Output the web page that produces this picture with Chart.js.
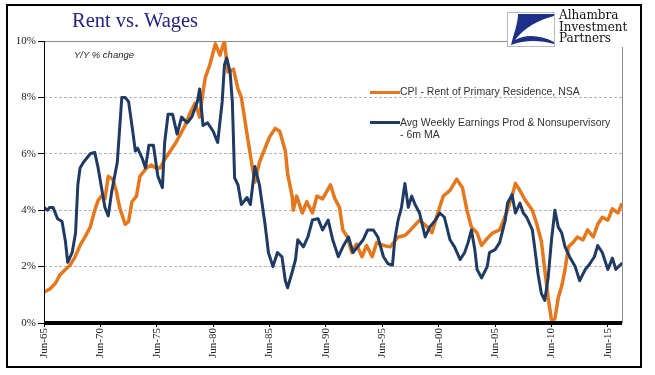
<!DOCTYPE html>
<html>
<head>
<meta charset="utf-8">
<script src="https://cdn.jsdelivr.net/npm/chart.js@4.4.1/dist/chart.umd.min.js"></script>
<style>
    body { margin: 0; background: #fff; }
    #wrap { position: relative; width: 655px; height: 375px; overflow: hidden; }
    #frame { position: absolute; left: 6px; top: 4px; width: 632px; height: 360px; border: 2px solid #000; }
    #mycanvas { position: absolute; left: 0; top: 0; }
    #title { position: absolute; left: 72px; top: 9px; font: 20.5px "Liberation Serif", serif; color: #24247e; white-space: nowrap; }
    #subtitle { position: absolute; left: 74px; top: 49px; font: italic 9.5px "Liberation Sans", sans-serif; color: #222; }
    .legline { position: absolute; left: 370px; width: 30px; height: 3px; }
    .legtext { position: absolute; left: 400px; font: 10.5px "Liberation Sans", Arial, sans-serif; color: #333; line-height: 12px; white-space: nowrap; }
    #logobox { position: absolute; left: 507px; top: 12px; width: 46px; height: 33px; border: 1px solid #b8b8b8; background: #fff; }
    #logotext { position: absolute; left: 559px; top: 10px; font: 12px "DejaVu Serif", serif; line-height: 11.5px; color: #111; }
</style>
</head>
<body>
<div id="wrap">
    <div id="frame"></div>
    <canvas id="mycanvas" width="655" height="375"></canvas>
    <div id="title">Rent vs. Wages</div>
    <div id="subtitle">Y/Y % change</div>
    <div class="legline" style="top:91px; background:#e4781e"></div>
    <div class="legtext" style="top:85px">CPI - Rent of Primary Residence, NSA</div>
    <div class="legline" style="top:121px; background:#1f3b63"></div>
    <div class="legtext" style="top:116px">Avg Weekly Earnings Prod &amp; Nonsupervisory<br>- 6m MA</div>
    <div id="logobox">
        <svg width="46" height="33" viewBox="0 0 46 33">
            <path d="M10 1 L46 1 L46 3 C30 7 16 15 7 27 C18 21 32 22 46 29 L46 31 C32 27 16 27 3 32 C6 20 10 10 10 1 Z" fill="#1d2f86"/>
        </svg>
    </div>
    <div id="logotext">Alhambra<br>Investment<br>Partners</div>
</div>
<script>
// x values are years, Jun-65 = 1965.5
var tickYears = [1965.5, 1970.5, 1975.5, 1980.5, 1985.5, 1990.5, 1995.5, 2000.5, 2005.5, 2010.5, 2015.5];
var xTickLabels = ['Jun-65', 'Jun-70', 'Jun-75', 'Jun-80', 'Jun-85', 'Jun-90', 'Jun-95', 'Jun-00', 'Jun-05', 'Jun-10', 'Jun-15'];

// CPI - Rent of Primary Residence, NSA (Y/Y %)
var rentYears = [1965.5, 1966.0, 1966.5, 1966.9, 1967.4, 1967.8, 1968.2, 1968.7, 1969.2, 1969.6,
    1970.0, 1970.3, 1970.6, 1970.9, 1971.2, 1971.6, 1971.9, 1972.2, 1972.7, 1973.0,
    1973.3, 1973.7, 1974.0, 1974.6, 1975.0, 1975.4, 1975.8, 1976.2, 1976.7, 1977.2,
    1977.6, 1978.0, 1978.4, 1978.9, 1979.3, 1979.6, 1979.8, 1980.2, 1980.5, 1980.7,
    1981.1, 1981.5, 1981.8, 1982.3, 1982.7, 1983.0, 1983.5, 1983.9, 1984.2, 1984.6,
    1985.0, 1985.5, 1986.0, 1986.4, 1986.9, 1987.1, 1987.5, 1987.6, 1987.9, 1988.4,
    1988.8, 1989.3, 1989.7, 1990.2, 1990.9, 1991.3, 1991.7, 1992.0, 1992.4, 1992.8,
    1993.2, 1993.7, 1994.1, 1994.6, 1995.0, 1995.6, 1996.2, 1996.9, 1997.5, 1998.0,
    1998.8, 1999.5, 1999.9, 2000.3, 2000.9, 2001.5, 2002.1, 2002.6, 2003.0, 2003.4,
    2003.9, 2004.3, 2004.8, 2005.3, 2005.9, 2006.5, 2007.0, 2007.3, 2007.7, 2008.1,
    2008.8, 2009.2, 2009.6, 2009.9, 2010.2, 2010.5, 2010.8, 2011.1, 2011.4, 2011.7,
    2012.0, 2012.4, 2012.8, 2013.3, 2013.7, 2014.2, 2014.6, 2015.0, 2015.5, 2015.9,
    2016.4, 2016.7];
var rentValues = [1.1, 1.2, 1.4, 1.7, 1.9, 2.05, 2.3, 2.75, 3.1, 3.4,
    4.0, 4.35, 4.5, 4.4, 5.2, 5.1, 4.7, 4.1, 3.5, 3.6,
    4.3, 4.5, 5.2, 5.5, 5.6, 5.5, 5.5, 5.8, 6.1, 6.4,
    6.7, 7.0, 7.4, 7.8, 7.3, 8.2, 8.7, 9.15, 9.6, 9.9,
    9.5, 10.0, 8.9, 9.0, 8.3, 8.0, 6.7, 5.7, 5.0, 5.7,
    6.1, 6.6, 6.9, 6.8, 6.1, 5.3, 4.5, 4.0, 4.5, 3.9,
    4.3, 3.9, 4.5, 4.4, 4.9, 4.4, 4.1, 3.3, 3.05, 2.5,
    2.8, 2.35, 2.75, 2.35, 2.85, 2.75, 2.7, 3.05, 3.1, 3.3,
    3.65, 3.4, 3.2, 3.75, 4.5, 4.7, 5.1, 4.8, 4.0, 3.4,
    3.2, 2.75, 3.0, 3.2, 3.3, 3.9, 4.5, 4.95, 4.7, 4.4,
    4.0, 3.5, 2.9, 1.9, 0.9, 0.1, 0.15, 0.9, 1.3, 1.9,
    2.7, 2.85, 3.05, 2.95, 3.3, 3.05, 3.5, 3.75, 3.65, 4.05,
    3.9, 4.2];

// Avg Weekly Earnings Prod & Nonsupervisory - 6m MA (Y/Y %)
var wageYears = [1965.5, 1965.8, 1966.0, 1966.3, 1966.7, 1967.1, 1967.4, 1967.6, 1968.0, 1968.3,
    1968.5, 1968.7, 1969.0, 1969.6, 1970.0, 1970.3, 1970.6, 1970.9, 1971.2, 1971.5,
    1972.0, 1972.4, 1972.7, 1973.0, 1973.3, 1973.6, 1973.8, 1974.2, 1974.5, 1974.8,
    1975.2, 1975.6, 1976.0, 1976.2, 1976.5, 1976.9, 1977.3, 1977.7, 1978.2, 1978.6,
    1979.1, 1979.3, 1979.6, 1980.0, 1980.5, 1980.9, 1981.3, 1981.5, 1981.7, 1982.0,
    1982.2, 1982.4, 1982.7, 1983.0, 1983.5, 1983.8, 1984.2, 1984.6, 1985.1, 1985.4,
    1985.8, 1986.2, 1986.6, 1986.9, 1987.1, 1987.5, 1987.8, 1988.0, 1988.5, 1988.9,
    1989.3, 1989.8, 1990.2, 1990.7, 1991.1, 1991.6, 1992.0, 1992.5, 1992.9, 1993.3,
    1993.8, 1994.2, 1994.7, 1995.1, 1995.6, 1996.0, 1996.4, 1996.6, 1996.9, 1997.2,
    1997.5, 1997.8, 1998.1, 1998.4, 1998.8, 1999.3, 1999.7, 2000.2, 2000.6, 2001.0,
    2001.5, 2001.9, 2002.4, 2002.8, 2003.1, 2003.4, 2003.7, 2003.9, 2004.3, 2004.8,
    2005.0, 2005.5, 2005.9, 2006.4, 2006.6, 2007.0, 2007.3, 2007.7, 2008.0, 2008.3,
    2008.8, 2009.0, 2009.3, 2009.6, 2009.9, 2010.2, 2010.5, 2010.8, 2011.1, 2011.4,
    2011.7, 2012.1, 2012.6, 2013.0, 2013.5, 2013.9, 2014.3, 2014.6, 2015.0, 2015.5,
    2015.9, 2016.2, 2016.7];
var wageValues = [4.1, 4.0, 4.1, 4.1, 3.7, 3.6, 2.9, 2.15, 2.5, 3.2,
    4.9, 5.5, 5.7, 6.0, 6.05, 5.5, 4.8, 4.1, 3.8, 4.65,
    5.7, 8.0, 8.0, 7.85, 7.0, 6.1, 6.2, 5.85, 5.5, 6.3,
    6.3, 5.2, 4.8, 6.4, 7.4, 7.4, 6.7, 7.3, 7.1, 7.3,
    7.85, 8.3, 7.0, 7.1, 6.8, 6.4, 7.85, 9.15, 9.4, 8.9,
    7.85, 5.15, 4.9, 4.2, 4.45, 4.2, 5.55, 4.9, 3.5, 2.5,
    2.0, 2.5, 2.35, 1.5, 1.25, 1.8, 2.25, 2.95, 2.7, 3.05,
    3.65, 3.7, 3.3, 3.65, 2.95, 2.35, 2.7, 3.05, 2.5, 2.7,
    2.95, 3.3, 3.3, 3.05, 2.35, 2.1, 2.05, 2.95, 3.65, 4.1,
    4.95, 4.1, 4.5, 4.2, 3.9, 3.05, 3.4, 3.65, 3.9, 3.75,
    2.95, 2.7, 2.25, 2.5, 2.85, 3.3, 2.6, 1.9, 1.6, 2.0,
    2.5, 2.6, 2.85, 3.65, 4.25, 4.55, 3.9, 4.25, 3.9, 3.75,
    3.3, 2.7, 1.75, 1.05, 0.8, 1.6, 2.95, 4.0, 3.4, 3.2,
    2.7, 2.35, 2.0, 1.5, 1.9, 2.1, 2.35, 2.75, 2.5, 1.9,
    2.3, 1.9, 2.1];

function toPoints(xs, ys) {
    var pts = [];
    for (var i = 0; i < xs.length; i++) {
        pts.push({ x: xs[i], y: ys[i] });
    }
    return pts;
}

// frame lines of the plot, drawn by hand like the original
var plotLines = {
    id: 'plotLines',
    beforeDatasetsDraw: function (chart) {
        var ctx = chart.ctx, a = chart.chartArea;
        ctx.save();
        ctx.strokeStyle = '#8a8a8a';
        ctx.lineWidth = 1;
        ctx.beginPath();
        ctx.moveTo(a.left, Math.round(a.top) + 0.5);
        ctx.lineTo(507, Math.round(a.top) + 0.5);
        ctx.moveTo(Math.round(a.right) + 0.5, 47);
        ctx.lineTo(Math.round(a.right) + 0.5, a.bottom);
        ctx.stroke();
        ctx.restore();
    },
    afterDatasetsDraw: function (chart) {
        var ctx = chart.ctx, a = chart.chartArea;
        ctx.save();
        ctx.strokeStyle = '#000';
        ctx.lineWidth = 1;
        ctx.beginPath();
        ctx.moveTo(Math.round(a.left) + 0.5, a.top);
        ctx.lineTo(Math.round(a.left) + 0.5, a.bottom);
        ctx.stroke();
        ctx.lineWidth = 4;
        ctx.beginPath();
        ctx.moveTo(a.left, a.bottom);
        ctx.lineTo(a.right, a.bottom);
        ctx.stroke();
        ctx.restore();
    }
};

var chartdata = {
    datasets: [
        {
            label: 'CPI - Rent of Primary Residence, NSA',
            data: toPoints(rentYears, rentValues),
            borderColor: '#e4781e',
            borderWidth: 3.5,
            order: 1
        },
        {
            label: 'Avg Weekly Earnings Prod & Nonsupervisory - 6m MA',
            data: toPoints(wageYears, wageValues),
            borderColor: '#1f3b63',
            borderWidth: 3,
            order: 0
        }
    ]
};

var ctx = document.getElementById('mycanvas');

var lineGraph = new Chart(ctx, {
    type: 'line',
    data: chartdata,
    plugins: [plotLines],
    options: {
        responsive: false,
        animation: false,
        layout: { padding: { left: 0, top: 41, right: 33, bottom: 0 } },
        elements: {
            point: { radius: 0 },
            line: { tension: 0, borderJoinStyle: 'round', borderCapStyle: 'round' }
        },
        plugins: {
            legend: { display: false },
            tooltip: { enabled: false }
        },
        scales: {
            x: {
                type: 'linear',
                min: 1965.5,
                max: 2016.75,
                afterBuildTicks: function (scale) {
                    scale.ticks = tickYears.map(function (v) { return { value: v }; });
                },
                afterFit: function (scale) { scale.height = 52; },
                grid: { drawOnChartArea: false, drawTicks: true, tickLength: 4, tickColor: '#000' },
                border: { display: false },
                ticks: {
                    autoSkip: false,
                    minRotation: 90,
                    maxRotation: 90,
                    padding: 1,
                    color: '#222',
                    font: { family: 'Liberation Serif', size: 11 },
                    callback: function (value, index) { return xTickLabels[index]; }
                }
            },
            y: {
                min: 0,
                max: 10,
                afterFit: function (scale) { scale.width = 44; },
                grid: {
                    color: function (c) {
                        if (c.tick && (c.tick.value === 0 || c.tick.value === 10)) {
                            return 'rgba(0,0,0,0)';
                        }
                        return '#b4b4b4';
                    },
                    tickLength: 6,
                    tickColor: '#000'
                },
                border: { display: false, dash: [3, 2] },
                ticks: {
                    stepSize: 2,
                    padding: 2,
                    color: '#222',
                    font: { family: 'Liberation Serif', size: 11 },
                    callback: function (value) { return value + '%'; }
                }
            }
        }
    }
});
</script>
</body>
</html>
